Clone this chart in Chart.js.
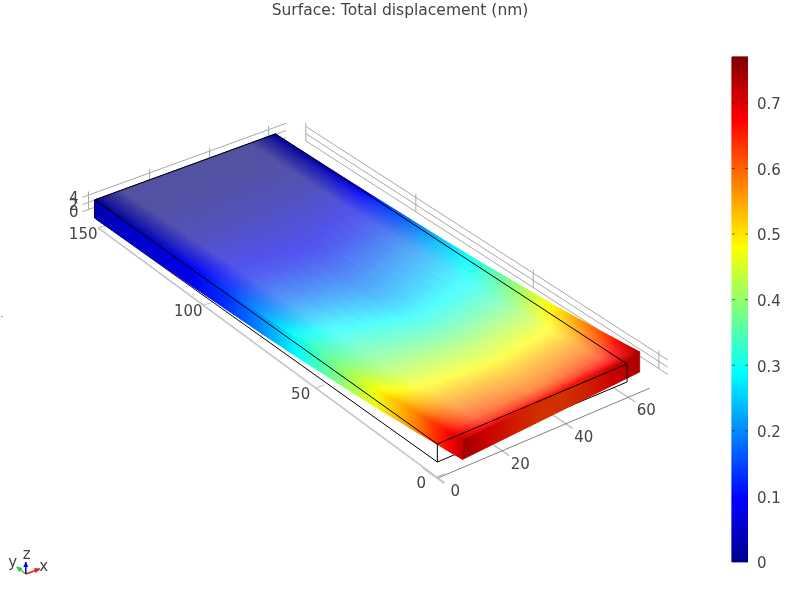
<!DOCTYPE html>
<html><head><meta charset="utf-8">
<style>html,body{margin:0;padding:0;background:#fff}canvas{display:block}</style>
<script src="https://cdn.jsdelivr.net/npm/chart.js@4/dist/chart.umd.min.js"></script>
</head><body><canvas id="c" width="800" height="600"></canvas>
<script>
// ---- values ----
const titleText = 'Surface: Total displacement (nm)';
const xTicks = [0, 20, 40, 60];
const yTicks = [0, 50, 100, 150];
const zTicks = [0, 2, 4];
const colorTicks = [0, 0.1, 0.2, 0.3, 0.4, 0.5, 0.6, 0.7];
const colorMax = 0.77;
const plateRowsY = [150,135,120,105,90,75,60,50,40,30,22,15,10,5,2,0];
const plateColsX = [0,3,9,30,51,57,60];
const displacement = [
 [.00,.00,.01,.01,.01,.01,.01],
 [.02,.02,.02,.02,.02,.02,.02],
 [.05,.045,.04,.04,.045,.05,.05],
 [.09,.085,.08,.07,.09,.11,.12],
 [.14,.13,.12,.11,.14,.16,.18],
 [.22,.205,.19,.17,.21,.24,.25],
 [.31,.295,.28,.23,.27,.30,.32],
 [.36,.345,.33,.29,.31,.36,.38],
 [.41,.395,.38,.35,.37,.42,.44],
 [.47,.455,.44,.42,.44,.49,.50],
 [.53,.51,.49,.47,.49,.54,.56],
 [.58,.565,.55,.53,.55,.59,.61],
 [.63,.61,.59,.565,.59,.63,.65],
 [.67,.65,.63,.60,.64,.68,.70],
 [.70,.68,.66,.64,.67,.70,.72],
 [.72,.705,.69,.67,.70,.72,.74]];
const sideValues = [.03,.05,.06,.08,.13,.20,.29,.35,.41,.47,.53,.58,.63,.67,.70,.72];
const endFaceX = [0,8,17,26,34,43,51,60];
const endValues = [.72,.68,.65,.63,.63,.65,.68,.71];
const bendX = [0,.1,.2,.4,.7,1,1.5,2,2.5,3,3.7,4.2,4.7,5.1,5.4,5.6];
const bendY = [0,0,0,0,.1,.2,.3,.4,.6,.8,1,1.3,1.6,1.9,2.1,2.25];
// lighting of the plate (style, not data)
const colGloss = [0,.12,.32,.32,.32,.12,0];
const rowDim = [.75,.75,.8,.87,.92,.96,1,1,1,1,1,1,1,1,1,1];
const rowGloss = [1,1,1,1,1,1,1,1,1,1,1,1,1,.9,.6,.1];

// ---- projection of the model box onto the chart's linear scales ----
const G=.0299,Hh=.1079,A=208.7,B=-332.9,C=437,D=-68.6,E=-220.5,F=462,ZS=3.6;
function project(x,y,z){const s=x/60,t=y/150,w=G*s+Hh*t+1;
  return {x:(A*s+B*t+C)/w,y:(D*s+E*t+F)/w-ZS*z};}
const jetStops=[[0,[0,0,.56]],[.125,[0,0,1]],[.375,[0,1,1]],[.625,[1,1,0]],[.875,[1,0,0]],[1,[.5,0,0]]];
function jet(v){const t=Math.min(1,Math.max(0,v/colorMax));
  for(let i=1;i<jetStops.length;i++){if(t<=jetStops[i][0]){const a=jetStops[i-1],b=jetStops[i],f=(t-a[0])/(b[0]-a[0]);
    return a[1].map((c,k)=>c+(b[1][k]-c)*f);}}return [.5,0,0];}
const css=c=>`rgb(${c.map(q=>Math.round(255*Math.min(1,Math.max(0,q)))).join(',')})`;
const lerp=(a,b,f)=>a+(b-a)*f;

// painter's list: earlier = further back
const paint=[];
function closedPoly(pts){
  let l=0;pts.forEach((p,i)=>{if(p.x<pts[l].x)l=i;});
  const r=pts.slice(l).concat(pts.slice(0,l));
  let m=0;r.forEach((p,i)=>{if(p.x>r[m].x)m=i;});
  return m===r.length-1?r:r.concat(r.slice(0,m+1));
}
function addLine(pts,color,width){paint.push({type:'line',data:pts,borderColor:color,borderWidth:width,pointRadius:0,fill:false,tension:0,xAxisID:'x',yAxisID:'y',borderCapStyle:'butt'});}
// iso = on-screen direction along which the colour stays constant
function addGradPoly(pts,p0,p1,colorAt,iso,axis){
  paint.push({type:'line',data:closedPoly(pts),backgroundColor:colorAt[0][1],borderColor:colorAt[0][1],borderWidth:.8,pointRadius:0,fill:'shape',tension:0,xAxisID:'x',yAxisID:axis||'y',gradSpec:{p0,p1,colorAt,iso,axis:axis||'y'}});
}
// back axis planes
const backLeft=(x,z)=>project(x+2,156,z-.7);
const backRight=(y,z)=>project(70.4,y,z);
const gridCol='#a8a8a8';
zTicks.forEach(z=>{addLine([backLeft(-2,z),backLeft(66,z)],gridCol,1);addLine([backRight(150,z),backRight(-3.5,z)],gridCol,1);});
xTicks.forEach(x=>addLine([backLeft(x,0),backLeft(x,5)],gridCol,1));
yTicks.forEach(y=>addLine([backRight(y,0),backRight(y,5)],gridCol,1));
// floor axes
const xAxisY=-5.64,xOff=-4.4;
const yBase=y=>project(-2.2-(150-y)*.01333,y-5,0);
xTicks.forEach(x=>addLine([project(x+xOff,0,0),project(x+xOff,-8.3,0)],'#c4c4c4',1.6));
addLine([project(xOff,xAxisY,0),project(66+xOff+1,xAxisY,0)],'#808080',1);
addLine([yBase(150),yBase(-3.3)],'#c4c4c4',1.6);
yTicks.forEach(y=>{const m=yBase(y);addLine([m,{x:m.x+9,y:m.y-3}],'#c4c4c4',1.2);});
// hidden wire parts
const wire='#000';
addLine([project(0,0,0),project(60,0,0)],wire,1);
addLine([project(0,0,0),project(0,150,0)],wire,1);
// deformed plate helpers
const plate=(r,x,z)=>project(x+bendX[r],plateRowsY[r]+(x/30-1)*bendY[r]-.5*(bendY[r]/2.25),z);
const topZ=r=>5+.5*(150-plateRowsY[r])/150;
function litColor(r,cf){
  const r0=Math.min(Math.floor(r),plateRowsY.length-2),rf=r-r0,c0=Math.min(Math.floor(cf),plateColsX.length-2),ff=cf-c0;
  const v=lerp(lerp(displacement[r0][c0],displacement[r0][c0+1],ff),lerp(displacement[r0+1][c0],displacement[r0+1][c0+1],ff),rf);
  const g0=lerp(colGloss[c0],colGloss[c0+1],ff),rd=lerp(rowDim[r0],rowDim[r0+1],rf);
  const d=lerp(1,rd,g0/.32),g=g0*lerp(rowGloss[r0],rowGloss[r0+1],rf);
  return jet(v).map(c=>{const q=c*d;return q+g*(1-q);});
}
const UP={x:0,y:1};
const lastR=plateRowsY.length-1;
// near end face
for(let i=0;i<endFaceX.length-1;i++){
  const r=lastR,a=endFaceX[i],b=endFaceX[i+1];
  const ca=css(jet(endValues[i]).map(c=>c*.82)),cb=css(jet(endValues[i+1]).map(c=>c*.82));
  addGradPoly([plate(r,a,0),plate(r,b,0),plate(r,b,topZ(r)),plate(r,a,topZ(r))],plate(r,a,0),plate(r,b,0),[[0,ca],[1,cb]],UP);
}
// long side face
for(let r=0;r<lastR;r++){
  addGradPoly([plate(r,0,0),plate(r+1,0,0),plate(r+1,0,topZ(r+1)),plate(r,0,topZ(r))],plate(r,0,0),plate(r+1,0,0),
    [[0,css(jet(sideValues[r]))],[1,css(jet(sideValues[r+1]))]],UP);
}
// top surface
const SUB=5;
for(let r=0;r<lastR;r++){
  const zA=topZ(r),zB=topZ(r+1);
  const a0=plate(r,0,zA),a1=plate(r,60,zA),b0=plate(r+1,0,zB),b1=plate(r+1,60,zB);
  const iso={x:(a1.x-a0.x)+(b1.x-b0.x),y:(a1.y-a0.y)+(b1.y-b0.y)};
  for(let c=0;c<plateColsX.length-1;c++){
    for(let k=0;k<SUB;k++){
      const xa=lerp(plateColsX[c],plateColsX[c+1],k/SUB),xb=lerp(plateColsX[c],plateColsX[c+1],(k+1)/SUB),xm=(xa+xb)/2,cf=c+(k+.5)/SUB;
      const stops=[0,.25,.5,.75,1].map(f=>[f,css(litColor(r+f,cf))]);
      addGradPoly([plate(r,xa,zA),plate(r,xb,zA),plate(r+1,xb,zB),plate(r+1,xa,zB)],plate(r,xm,zA),plate(r+1,xm,zB),stops,iso);
    }
  }
}
// visible wire box
const box=[[0,0],[60,0],[60,150],[0,150]];
box.forEach((p,i)=>{const q=box[(i+1)%4];addLine([project(p[0],p[1],5),project(q[0],q[1],5)],wire,1);});
addLine([project(0,0,0),project(0,0,5)],wire,1);
addLine([project(60,0,0),project(60,0,5)],wire,1);
addLine([project(0,150,0),project(0,150,5)],'#000060',1);
// colour bar
const barL=732,barR=748;
addGradPoly([{x:barL,y:0},{x:barL,y:colorMax},{x:barR,y:colorMax},{x:barR,y:0}],{x:barL,y:0},{x:barL,y:colorMax},
  jetStops.map(s=>[s[0],css(s[1])]),null,'yBar');
colorTicks.slice(1).forEach(t=>{
  paint.push({type:'line',data:[{x:barL,y:t},{x:barL+3,y:t}],borderColor:'rgba(0,0,0,.5)',borderWidth:1,pointRadius:0,yAxisID:'yBar',xAxisID:'x'});
  paint.push({type:'line',data:[{x:barR-3,y:t},{x:barR,y:t}],borderColor:'rgba(0,0,0,.5)',borderWidth:1,pointRadius:0,yAxisID:'yBar',xAxisID:'x'});
});
// orientation triad
const triadO={x:25,y:574};
[[{x:39,y:569},'#e02020'],[{x:16,y:567},'#20d040'],[{x:25,y:562},'#0000d0']].forEach(([tip,col])=>{
  addLine([triadO,tip],col,1.5);
  const dx=tip.x-triadO.x,dy=tip.y-triadO.y,l=Math.hypot(dx,dy),ux=dx/l,uy=dy/l;
  const b={x:tip.x-ux*5,y:tip.y-uy*5};
  const pts=[{x:b.x-uy*2.2,y:b.y+ux*2.2},{x:b.x+uy*2.2,y:b.y-ux*2.2},tip];
  paint.push({type:'line',data:closedPoly(pts),backgroundColor:col,borderColor:col,borderWidth:.5,pointRadius:0,fill:'shape',tension:0,xAxisID:'x',yAxisID:'y'});
});
addLine([{x:0,y:316},{x:2,y:317}],'#888',1);

paint.forEach((d,i)=>{d.order=paint.length-i;});

const textPlugin={id:'modelText',afterDatasetsDraw(ch){
  const c=ch.ctx,sx=ch.scales.x,sy=ch.scales.y;
  const put=(t,p,dx,dy)=>c.fillText(t,sx.getPixelForValue(p.x)+dx,sy.getPixelForValue(p.y)+dy);
  c.save();c.font='15px "DejaVu Sans"';c.fillStyle='#444';c.textAlign='center';c.textBaseline='middle';
  xTicks.forEach(x=>put(String(x),project(x+xOff,xAxisY,0),18,14));
  yTicks.forEach(y=>put(String(y),yBase(y),-15,7));
  zTicks.forEach(z=>put(String(z),{x:87,y:208-z*3.5},-14,5));
  put('z',triadO,1,-19);put('y',triadO,-13,-11);put('x',triadO,18,-7);
  c.restore();
}};

const chart=new Chart(document.getElementById('c'),{
  data:{datasets:paint},
  plugins:[textPlugin],
  options:{
    responsive:false,animation:false,events:[],
    layout:{padding:0},
    plugins:{legend:{display:false},tooltip:{enabled:false},
      title:{display:true,text:titleText,color:'#444',font:{family:'"DejaVu Sans"',size:15.5,weight:'normal',lineHeight:1.2},padding:{top:2,bottom:1.4}}},
    scales:{
      x:{type:'linear',min:0,max:748,display:false},
      y:{type:'linear',min:22,max:600,reverse:true,display:false},
      yBar:{type:'linear',position:'right',min:-0.0579,max:0.8234,
        afterFit(a){a.width=52;},
        afterBuildTicks(a){a.ticks=colorTicks.map(v=>({value:v}));},
        grid:{display:false,drawTicks:false},border:{display:false},
        ticks:{padding:9,labelOffset:2.5,color:'#444',font:{family:'"DejaVu Sans"',size:15},callback:v=>String(v)}}
    }
  }
});
// make chart units equal canvas pixels once the area is known
const barUnit=colorMax/505, barZeroPx=562;
{const a=chart.chartArea,o=chart.options.scales;
 o.x.min=a.left;o.x.max=a.right;o.y.min=a.top;o.y.max=a.bottom;
 o.yBar.min=(barZeroPx-a.bottom)*barUnit;o.yBar.max=(barZeroPx-a.top)*barUnit;}
chart.update('none');
// gradients need the laid-out scales
paint.forEach(d=>{if(!d.gradSpec)return;const {p0,p1,colorAt,iso,axis}=d.gradSpec,sx=chart.scales.x,sy=chart.scales[axis];
  const x0=sx.getPixelForValue(p0.x),y0=sy.getPixelForValue(p0.y);let x1=sx.getPixelForValue(p1.x),y1=sy.getPixelForValue(p1.y);
  if(iso){const l=Math.hypot(iso.x,iso.y),nx=-iso.y/l,ny=iso.x/l,q=(x1-x0)*nx+(y1-y0)*ny;x1=x0+nx*q;y1=y0+ny*q;}
  const g=chart.ctx.createLinearGradient(x0,y0,x1,y1);
  colorAt.forEach(([f,col])=>g.addColorStop(f,col));d.backgroundColor=g;d.borderColor=g;});
chart.update('none');
</script></body></html>
